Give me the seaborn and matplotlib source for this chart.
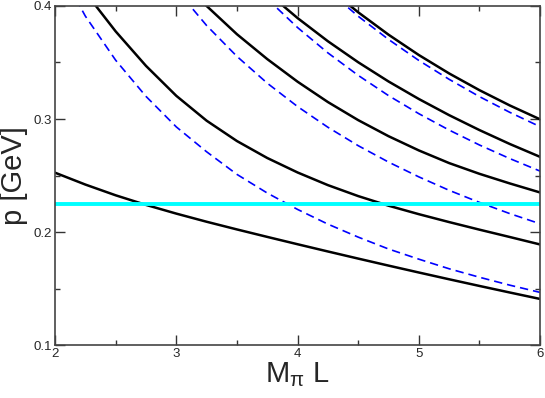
import numpy as np
import pandas as pd
import seaborn as sns
from matplotlib import pyplot as plt

# sample points along M_pi L
x_grid = [2.0, 2.25, 2.5, 2.75, 3.0, 3.25, 3.5, 3.75, 4.0,
          4.25, 4.5, 4.75, 5.0, 5.25, 5.5, 5.75, 6.0]

# solid black levels (p in GeV), None where the curve is out of view
black_1 = [0.2525, 0.2420, 0.2325, 0.2240, 0.2163, 0.2091, 0.2023, 0.1957, 0.1892,
           0.1828, 0.1765, 0.1703, 0.1642, 0.1582, 0.1523, 0.1465, 0.1408]
black_2 = [None, 0.412, 0.3775, 0.347, 0.3205, 0.2985, 0.2805, 0.2655, 0.2527,
           0.2415, 0.2318, 0.2233, 0.2158, 0.2088, 0.2021, 0.1956, 0.189]
black_3 = [None, None, None, None, 0.428, 0.400, 0.375, 0.353, 0.333,
           0.315, 0.299, 0.2848, 0.2722, 0.261, 0.2515, 0.2430, 0.235]
black_4 = [None, None, None, None, None, None, None, 0.412, 0.3893,
           0.3688, 0.3502, 0.3332, 0.3177, 0.3034, 0.2902, 0.2779, 0.2665]
black_5 = [None, None, None, None, None, None, None, None, None,
           0.4162, 0.3944, 0.3746, 0.3566, 0.3403, 0.3255, 0.312, 0.2997]

# dashed blue levels
blue_1 = [0.440, 0.391, 0.352, 0.320, 0.293, 0.271, 0.251, 0.2345, 0.220,
          0.207, 0.1955, 0.185, 0.176, 0.1675, 0.160, 0.153, 0.1466]
blue_2 = [None, None, None, None, 0.4146, 0.3827, 0.3554, 0.3317, 0.311,
          0.2927, 0.2764, 0.2619, 0.2488, 0.2369, 0.2262, 0.2163, 0.2073]
blue_3 = [None, None, None, None, None, None, None, 0.4063, 0.3809,
          0.3585, 0.3386, 0.3207, 0.3047, 0.2902, 0.277, 0.265, 0.2539]
blue_4 = [None, None, None, None, None, None, None, None, None,
          0.4139, 0.3909, 0.3704, 0.3518, 0.3351, 0.3198, 0.3059, 0.2932]

cyan_level = 0.225

x_ticks = [2, 3, 4, 5, 6]
y_ticks = [0.1, 0.2, 0.3, 0.4]


def to_frame(values):
    df = pd.DataFrame({'x': x_grid, 'p': values})
    return df.dropna()


sns.set_style("ticks")
plt.rcParams['font.family'] = ['Liberation Sans', 'DejaVu Sans']
plt.rcParams['mathtext.default'] = 'regular'

fig = plt.figure(figsize=(5.45, 3.98), dpi=100)
ax = fig.add_axes([0.101, 0.133, 0.890, 0.852])

for vals in [blue_1, blue_2, blue_3, blue_4]:
    sns.lineplot(data=to_frame(vals), x='x', y='p', ax=ax, color='#0000ff',
                 linewidth=1.2, estimator=None)
    ax.lines[-1].set_dashes([5, 3])

for vals in [black_1, black_2, black_3, black_4, black_5]:
    sns.lineplot(data=to_frame(vals), x='x', y='p', ax=ax, color='black',
                 linewidth=1.8, estimator=None)

ax.axhline(cyan_level, color='#00ffff', linewidth=2.8)

ax.set_xlim(2, 6)
ax.set_ylim(0.1, 0.4)
ax.set_xticks(x_ticks)
ax.set_xticklabels([str(t) for t in x_ticks])
ax.set_yticks(y_ticks)
ax.set_yticklabels([f'{t:.1f}' for t in y_ticks])
ax.set_xticks(np.arange(2.5, 6, 1.0), minor=True)
ax.set_yticks([0.15, 0.25, 0.35], minor=True)

ax.tick_params(which='both', direction='in', top=True, right=True,
               labelsize=9.5, width=1.0, color='#333333')
ax.tick_params(which='major', length=7, pad=2)
ax.tick_params(which='minor', length=3.5)
for sp in ax.spines.values():
    sp.set_linewidth(1.2)
    sp.set_color('#444444')

ax.set_xlabel(r'M$_\pi$ L', fontsize=21, labelpad=0)
ax.set_ylabel('p [GeV]', fontsize=21, labelpad=4)

fig.savefig('out.png', dpi=100)
